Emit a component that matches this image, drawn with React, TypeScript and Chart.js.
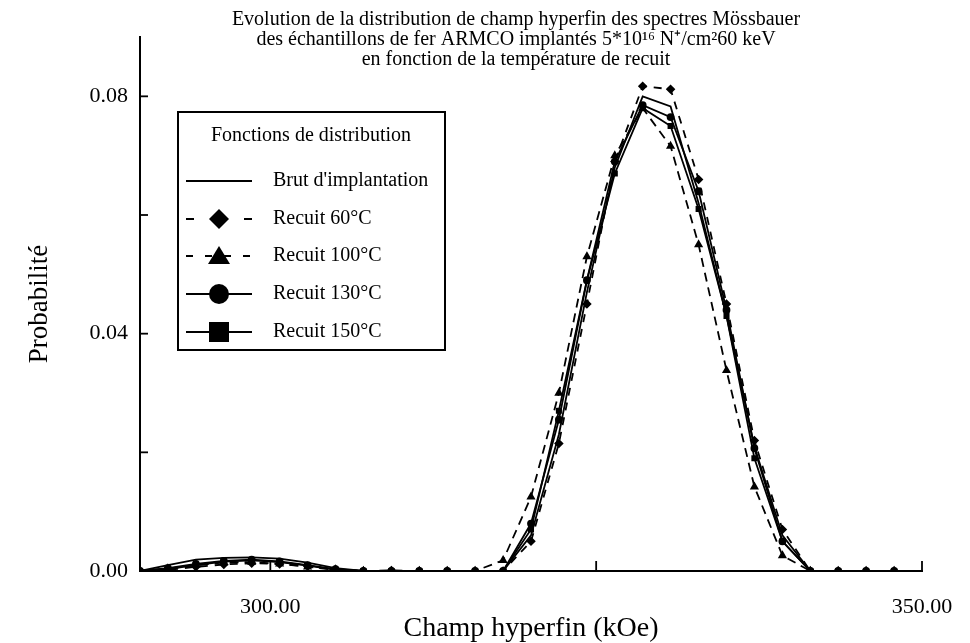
import React, { useEffect, useRef } from "react";
import { Chart, registerables } from "chart.js";
Chart.register(...registerables);

// Hyperfine field (kOe)
const fieldKOe = [
  290.0, 292.14, 294.29, 296.43, 298.57, 300.71, 302.86, 305.0, 307.14, 309.29,
  311.43, 313.57, 315.71, 317.86, 320.0, 322.14, 324.29, 326.43, 328.57, 330.71,
  332.86, 335.0, 337.14, 339.29, 341.43, 343.57, 345.71, 347.86,
];

const brutImplantation = [
  0, 0.001, 0.0019, 0.0022, 0.0023, 0.0021, 0.0014, 0.0005, 0, 0,
  0, 0, 0, 0, 0.006, 0.023, 0.047, 0.068, 0.08, 0.0783,
  0.062, 0.043, 0.021, 0.006, 0, 0, 0, 0,
];
const recuit60 = [
  0, 0.0002, 0.0007, 0.0011, 0.0013, 0.0012, 0.0008, 0.0003, 0, 0.0001,
  0, 0, 0, 0, 0.005, 0.0215, 0.045, 0.069, 0.0817, 0.0812,
  0.066, 0.045, 0.022, 0.007, 0, 0, 0, 0,
];
const recuit100 = [
  0, 0.0004, 0.001, 0.0014, 0.0015, 0.0012, 0.0007, 0.0002, 0, 0,
  0, 0, 0, 0.0018, 0.0125, 0.03, 0.053, 0.07, 0.078, 0.0716,
  0.055, 0.0338, 0.0142, 0.0026, 0, 0, 0, 0,
];
const recuit130 = [
  0, 0.0005, 0.0012, 0.0017, 0.0019, 0.0016, 0.001, 0.0003, 0, 0,
  0, 0, 0, 0, 0.008, 0.0255, 0.049, 0.069, 0.0785, 0.0765,
  0.064, 0.044, 0.0207, 0.005, 0, 0, 0, 0,
];
const recuit150 = [
  0, 0.0003, 0.001, 0.0016, 0.0018, 0.0015, 0.0009, 0.0002, 0, 0,
  0, 0, 0, 0, 0.007, 0.027, 0.049, 0.067, 0.078, 0.075,
  0.061, 0.043, 0.019, 0.005, 0, 0, 0, 0,
];

const seriesLabels = [
  "Brut d'implantation",
  "Recuit 60°C",
  "Recuit 100°C",
  "Recuit 130°C",
  "Recuit 150°C",
];

const yTickValues = [0, 0.02, 0.04, 0.06, 0.08];
const yLabelValues = [0, 0.04, 0.08];
const xLabelValues = [300, 350];
const xInnerTicks = [300, 325, 350];

const titleLines = [
  "Evolution de la distribution de champ hyperfin des spectres Mössbauer",
  "des échantillons de fer ARMCO implantés 5*10¹⁶ N⁺/cm²60 keV",
  "en fonction de la température de recuit",
];
const legendTitle = "Fonctions de distribution";
const xTitle = "Champ hyperfin (kOe)";
const yTitle = "Probabilité";

const FONT = "'Liberation Serif', 'Times New Roman', serif";

function drawMarker(ctx: CanvasRenderingContext2D, style: string, x: number, y: number) {
  ctx.beginPath();
  if (style === "rectRot") {
    ctx.moveTo(x, y - 10);
    ctx.lineTo(x + 10, y);
    ctx.lineTo(x, y + 10);
    ctx.lineTo(x - 10, y);
    ctx.closePath();
  } else if (style === "triangle") {
    ctx.moveTo(x, y - 10);
    ctx.lineTo(x + 11, y + 8);
    ctx.lineTo(x - 11, y + 8);
    ctx.closePath();
  } else if (style === "circle") {
    ctx.arc(x, y, 10, 0, Math.PI * 2);
  } else if (style === "rect") {
    ctx.rect(x - 10, y - 10, 20, 20);
  }
  ctx.fill();
}

const overlayPlugin = {
  id: "overlay",
  afterDraw(chart: any) {
    const ctx: CanvasRenderingContext2D = chart.ctx;
    const { left, bottom } = chart.chartArea;
    const xs = chart.scales.x;
    const ys = chart.scales.y;
    ctx.save();
    ctx.strokeStyle = "#000";
    ctx.fillStyle = "#000";
    ctx.lineWidth = 1.8;
    // inner ticks on y axis
    for (const v of yTickValues) {
      const py = ys.getPixelForValue(v);
      ctx.beginPath();
      ctx.moveTo(left, py);
      ctx.lineTo(left + 8, py);
      ctx.stroke();
    }
    // inner ticks on x axis
    for (const v of xInnerTicks) {
      const px = xs.getPixelForValue(v);
      ctx.beginPath();
      ctx.moveTo(px, bottom);
      ctx.lineTo(px, bottom - 10);
      ctx.stroke();
    }
    // Title
    ctx.font = `20px ${FONT}`;
    ctx.textAlign = "center";
    ctx.textBaseline = "alphabetic";
    titleLines.forEach((t, i) => ctx.fillText(t, 516, 25 + i * 20));

    // Legend box
    const bx = 178, by = 112, bw = 267, bh = 238;
    ctx.fillStyle = "#fff";
    ctx.fillRect(bx, by, bw, bh);
    ctx.fillStyle = "#000";
    ctx.lineWidth = 2;
    ctx.strokeRect(bx, by, bw, bh);
    ctx.font = `20px ${FONT}`;
    ctx.textAlign = "center";
    ctx.textBaseline = "middle";
    ctx.fillText(legendTitle, 311, 136);
    const rowsY = [181, 219, 256, 294, 332];
    const legendDash = [[], [8, 50], [7, 12], [], []];
    chart.data.datasets.forEach((ds: any, i: number) => {
      const y = rowsY[i];
      ctx.save();
      ctx.lineWidth = 1.8;
      ctx.setLineDash(legendDash[i]);
      ctx.beginPath();
      ctx.moveTo(186, y);
      ctx.lineTo(252, y);
      ctx.stroke();
      ctx.restore();
      if (ds.pointRadius > 0) drawMarker(ctx, ds.pointStyle, 219, y);
      ctx.textAlign = "left";
      ctx.fillText(ds.label, 273, y);
    });
    ctx.restore();
  },
};

export default function App() {
  const canvasRef = useRef<HTMLCanvasElement | null>(null);

  useEffect(() => {
    const canvas = canvasRef.current;
    if (!canvas) return;
    const mk = (arr: number[]) => fieldKOe.map((x, i) => ({ x, y: arr[i] }));
    const base = {
      borderColor: "#000",
      backgroundColor: "#000",
      pointBorderColor: "#000",
      pointBackgroundColor: "#000",
      borderWidth: 1.8,
      tension: 0,
      fill: false,
    };
    const chart = new Chart(canvas, {
      type: "line",
      data: {
        datasets: [
          { ...base, label: seriesLabels[0], data: mk(brutImplantation), pointRadius: 0, pointStyle: "circle" },
          { ...base, label: seriesLabels[1], data: mk(recuit60), borderDash: [8, 7], pointRadius: 3.5, pointStyle: "rectRot" },
          { ...base, label: seriesLabels[2], data: mk(recuit100), borderDash: [9, 6], pointRadius: 3.5, pointStyle: "triangle" },
          { ...base, label: seriesLabels[3], data: mk(recuit130), pointRadius: 3, pointStyle: "circle" },
          { ...base, label: seriesLabels[4], data: mk(recuit150), pointRadius: 3, pointStyle: "rect" },
        ] as any,
      },
      options: {
        animation: false,
        responsive: false,
        devicePixelRatio: 1,
        layout: { padding: { left: 0, right: 48, top: 37, bottom: 0 } },
        plugins: {
          legend: { display: false },
          title: { display: false },
          tooltip: { enabled: false },
        },
        scales: {
          x: {
            type: "linear",
            min: 290,
            max: 350,
            grid: { display: false, drawTicks: false },
            border: { display: true, color: "#000", width: 2 },
            afterBuildTicks: (scale: any) => {
              scale.ticks = xLabelValues.map((v) => ({ value: v }));
            },
            afterFit: (scale: any) => {
              scale.height = 72;
              scale.paddingLeft = 0;
              scale.paddingRight = 0;
            },
            ticks: {
              color: "#000",
              font: { family: FONT, size: 22 },
              padding: 23,
              maxRotation: 0,
              callback: (v: any) => Number(v).toFixed(2),
            },
            title: {
              display: true,
              text: xTitle,
              color: "#000",
              font: { family: FONT, size: 28, lineHeight: 1 },
              padding: { top: 0, bottom: 0 },
            },
          },
          y: {
            type: "linear",
            min: 0,
            max: 0.09,
            grid: { display: false, drawTicks: false },
            border: { display: true, color: "#000", width: 2 },
            afterBuildTicks: (scale: any) => {
              scale.ticks = yTickValues.map((v) => ({ value: v }));
            },
            afterFit: (scale: any) => {
              scale.width = 140;
              scale.paddingTop = 0;
              scale.paddingBottom = 0;
            },
            ticks: {
              color: "#000",
              font: { family: FONT, size: 22 },
              padding: 12,
              callback: (v: any) =>
                yLabelValues.some((l) => Math.abs(l - Number(v)) < 1e-9) ? Number(v).toFixed(2) : "",
            },
            title: {
              display: true,
              text: yTitle,
              color: "#000",
              font: { family: FONT, size: 27, lineHeight: 1.2 },
              padding: { top: 24, bottom: 0 },
            },
          },
        },
      } as any,
      plugins: [overlayPlugin],
    });
    return () => chart.destroy();
  }, []);

  return (
    <div style={{ position: "fixed", left: 0, top: 0, width: 970, height: 643, background: "#fff" }}>
      <canvas ref={canvasRef} width={970} height={643} style={{ display: "block", width: 970, height: 643 }} />
    </div>
  );
}
